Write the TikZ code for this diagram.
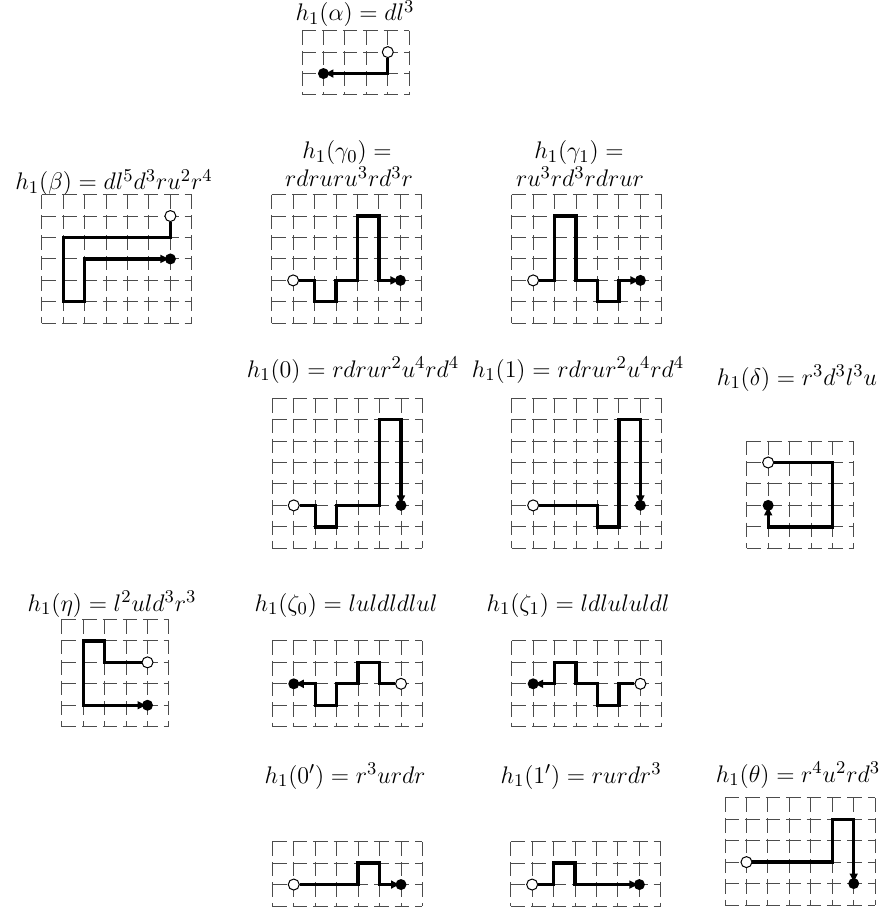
\documentclass[tikz,border=0pt]{standalone}
\usetikzlibrary{arrows.meta}
\newcommand\pgrid[2]{%
  \foreach \i in {0,...,#1} \draw[gridl] (\i,#2) -- (\i,0);
  \foreach \j in {0,...,#2} \draw[gridl] (0,\j) -- (#1,\j);}
\begin{document}
\begin{tikzpicture}[x=0.5pt,y=-0.5pt,
  gridl/.style={draw=black!70, line width=0.5pt, dash pattern=on 7.2pt off 3pt},
  walk/.style={line width=1.65pt, -{Latex[length=5pt,width=4.5pt]}, line join=miter},
  startpt/.style={circle, draw=black, fill=white, line width=0.5pt, inner sep=0pt, minimum size=5.5pt},
  endpt/.style={circle, fill=black, inner sep=0pt, minimum size=5.5pt},
  cell/.style={x=10.725pt, y=10.725pt},
  lab/.style={anchor=base, inner sep=0pt, font=\fontsize{12.4}{15}\selectfont}]
\useasboundingbox (0,0) rectangle (890,914);

% labels
\node[lab] (lalpha) at (355,21) {$h_1(\alpha) = dl^3$};
\node[lab] (lbeta) at (114,190) {$h_1(\beta) = dl^5d^3ru^2r^4$};
\node[lab] (lgz1) at (347,159) {$h_1(\gamma_0) =$};
\node[lab] (lgz2) at (349,187) {$rdruru^3rd^3r$};
\node[lab] (lgo1) at (579,159) {$h_1(\gamma_1) =$};
\node[lab] (lgo2) at (580,187) {$ru^3rd^3rdrur$};
\node[lab] (lzero) at (353,377) {$h_1(0) = rdrur^2u^4rd^4$};
\node[lab] (lone) at (578,377) {$h_1(1) = rdrur^2u^4rd^4$};
\node[lab] (ldelta) at (797,385) {$h_1(\delta) = r^3d^3l^3u$};
\node[lab] (leta) at (112,611) {$h_1(\eta) = l^2uld^3r^3$};
\node[lab] (lzz) at (346,611) {$h_1(\zeta_0) = luldldlul$};
\node[lab] (lzo) at (578,611) {$h_1(\zeta_1) = ldlululdl$};
\node[lab] (lzp) at (345,783) {$h_1(0') = r^3urdr$};
\node[lab] (lop) at (581,783) {$h_1(1') = rurdr^3$};
\node[lab] (ltheta) at (798,782) {$h_1(\theta) = r^4u^2rd^3$};

% alpha
\begin{scope}[shift={(302,95)}, cell]
\pgrid{5}{3}
\node[startpt] (as) at (4,2) {}; \node[endpt] (ae) at (1,1) {};
\draw[walk] (as) -- (4,1) -- (ae.center);
\end{scope}

% beta
\begin{scope}[shift={(41.7,323.3)}, cell]
\pgrid{7}{6}
\node[startpt] (bs) at (6,5) {}; \node[endpt] (be) at (6,3) {};
\draw[walk] (bs) -- (6,4) -- (1,4) -- (1,1) -- (2,1) -- (2,3) -- (be.center);
\end{scope}

% gamma0
\begin{scope}[shift={(271.7,323.3)}, cell]
\pgrid{7}{6}
\node[startpt] (gzs) at (1,2) {}; \node[endpt] (gze) at (6,2) {};
\draw[walk] (gzs) -- (2,2) -- (2,1) -- (3,1) -- (3,2) -- (4,2) -- (4,5) -- (5,5) -- (5,2) -- (gze.center);
\end{scope}

% gamma1
\begin{scope}[shift={(511.7,323.3)}, cell]
\pgrid{7}{6}
\node[startpt] (gos) at (1,2) {}; \node[endpt] (goe) at (6,2) {};
\draw[walk] (gos) -- (2,2) -- (2,5) -- (3,5) -- (3,2) -- (4,2) -- (4,1) -- (5,1) -- (5,2) -- (goe.center);
\end{scope}

% 0
\begin{scope}[shift={(272.3,548.3)}, cell]
\pgrid{7}{7}
\node[startpt] (zs) at (1,2) {}; \node[endpt] (ze) at (6,2) {};
\draw[walk] (zs) -- (2,2) -- (2,1) -- (3,1) -- (3,2) -- (5,2) -- (5,6) -- (6,6) -- (ze.center);
\end{scope}

% 1
\begin{scope}[shift={(511.7,548.3)}, cell]
\pgrid{7}{7}
\node[startpt] (os) at (1,2) {}; \node[endpt] (oe) at (6,2) {};
\draw[walk] (os) -- (4,2) -- (4,1) -- (5,1) -- (5,6) -- (6,6) -- (oe.center);
\end{scope}

% delta
\begin{scope}[shift={(746.7,548.3)}, cell]
\pgrid{5}{5}
\node[startpt] (ds) at (1,4) {}; \node[endpt] (de) at (1,2) {};
\draw[walk] (ds) -- (4,4) -- (4,1) -- (1,1) -- (de.center);
\end{scope}

% eta
\begin{scope}[shift={(61.7,726.7)}, cell]
\pgrid{5}{5}
\node[startpt] (es) at (4,3) {}; \node[endpt] (ee) at (4,1) {};
\draw[walk] (es) -- (2,3) -- (2,4) -- (1,4) -- (1,1) -- (ee.center);
\end{scope}

% zeta0
\begin{scope}[shift={(272.3,726.7)}, cell]
\pgrid{7}{4}
\node[startpt] (zzs) at (6,2) {}; \node[endpt] (zze) at (1,2) {};
\draw[walk] (zzs) -- (5,2) -- (5,3) -- (4,3) -- (4,2) -- (3,2) -- (3,1) -- (2,1) -- (2,2) -- (zze.center);
\end{scope}

% zeta1
\begin{scope}[shift={(511.7,726.7)}, cell]
\pgrid{7}{4}
\node[startpt] (zos) at (6,2) {}; \node[endpt] (zoe) at (1,2) {};
\draw[walk] (zos) -- (5,2) -- (5,1) -- (4,1) -- (4,2) -- (3,2) -- (3,3) -- (2,3) -- (2,2) -- (zoe.center);
\end{scope}

% 0'
\begin{scope}[shift={(272.3,906)}, cell]
\pgrid{7}{3}
\node[startpt] (zps) at (1,1) {}; \node[endpt] (zpe) at (6,1) {};
\draw[walk] (zps) -- (4,1) -- (4,2) -- (5,2) -- (5,1) -- (zpe.center);
\end{scope}

% 1'
\begin{scope}[shift={(510.7,906)}, cell]
\pgrid{7}{3}
\node[startpt] (ops) at (1,1) {}; \node[endpt] (ope) at (6,1) {};
\draw[walk] (ops) -- (2,1) -- (2,2) -- (3,2) -- (3,1) -- (ope.center);
\end{scope}

% theta
\begin{scope}[shift={(725,905)}, cell]
\pgrid{7}{5}
\node[startpt] (ts) at (1,2) {}; \node[endpt] (te) at (6,1) {};
\draw[walk] (ts) -- (5,2) -- (5,4) -- (6,4) -- (te.center);
\end{scope}
\end{tikzpicture}
\end{document}
